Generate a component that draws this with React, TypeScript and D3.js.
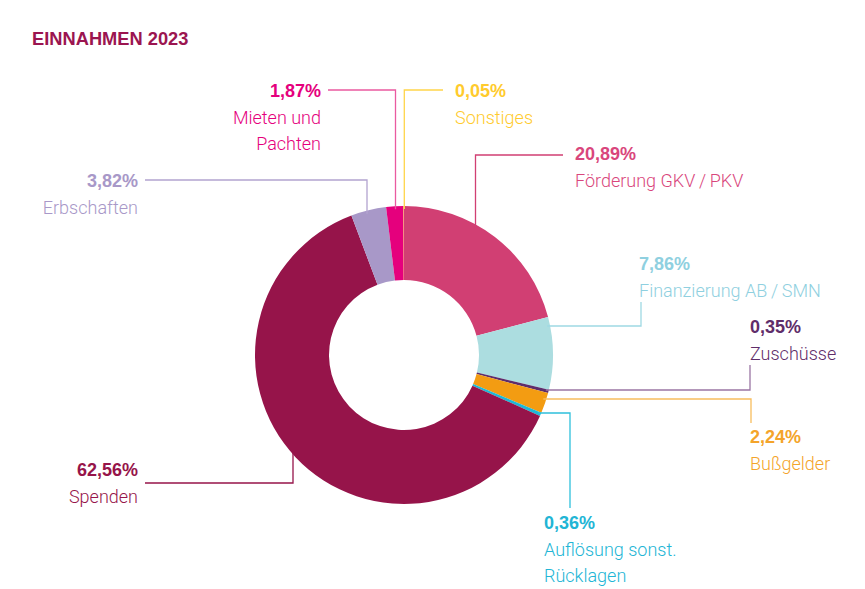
import React from "react";
import * as d3 from "d3";

const categories = [
  "Förderung GKV / PKV",
  "Finanzierung AB / SMN",
  "Zuschüsse",
  "Bußgelder",
  "Auflösung sonst. Rücklagen",
  "Spenden",
  "Erbschaften",
  "Mieten und Pachten",
  "Sonstiges",
];
const values = [20.89, 7.86, 0.35, 2.24, 0.36, 62.56, 3.82, 1.87, 0.05];
const valueLabels = ["20,89%", "7,86%", "0,35%", "2,24%", "0,36%", "62,56%", "3,82%", "1,87%", "0,05%"];
const nameLines = [
  ["Förderung GKV\u2009/\u2009PKV"],
  ["Finanzierung AB\u2009/\u2009SMN"],
  ["Zuschüsse"],
  ["Bußgelder"],
  ["Auflösung sonst.", "Rücklagen"],
  ["Spenden"],
  ["Erbschaften"],
  ["Mieten und", "Pachten"],
  ["Sonstiges"],
];
const sliceColors = ["#d13f73", "#acdde0", "#5e2d6b", "#f39c12", "#1eb8d6", "#96144a", "#a898c8", "#e5007d", "#ffd23f"];
const textColors = ["#d9467c", "#8fd0e0", "#5f2d6a", "#f4a42a", "#22b5d5", "#96144a", "#a898c8", "#e5007d", "#ffcb2d"];
const lineColors = ["#d13f73", "#9fd9e3", "#9a76a4", "#f8bd5e", "#2ec0dc", "#96144a", "#b3a4d0", "#ea5aa0", "#ffd54a"];

// layout of labels and leader lines (not data)
type Layout = {
  kind: "v" | "h";
  at: number;
  to: number;
  end: number;
  tx: number;
  ty: number;
  anchor: "start" | "end";
  side: number;
};
const layouts: Layout[] = [
  { kind: "v", at: 475.5, to: 155, end: 563, tx: 575, ty: 160, anchor: "start", side: -1 },
  { kind: "h", at: 326, to: 641, end: 302, tx: 639, ty: 270, anchor: "start", side: 1 },
  { kind: "h", at: 390, to: 750, end: 365, tx: 750, ty: 333, anchor: "start", side: 1 },
  { kind: "h", at: 399, to: 751, end: 423, tx: 750, ty: 443, anchor: "start", side: 1 },
  { kind: "h", at: 413, to: 570, end: 508, tx: 544, ty: 529, anchor: "start", side: 1 },
  { kind: "v", at: 293, to: 483, end: 145, tx: 138, ty: 476, anchor: "end", side: 1 },
  { kind: "v", at: 367, to: 180, end: 145, tx: 138, ty: 187, anchor: "end", side: -1 },
  { kind: "v", at: 395.5, to: 90, end: 328, tx: 321, ty: 97, anchor: "end", side: -1 },
  { kind: "v", at: 404.3, to: 90, end: 443, tx: 455, ty: 97, anchor: "start", side: -1 },
];

const W = 865;
const H = 589;
const cx = 404;
const cy = 355;
const outerR = 149;
const innerR = 75;
const LIGHT = "Roboto, 'Liberation Sans', Arial, sans-serif";
const BOLD = "'Liberation Sans', Arial, sans-serif";

export default function App() {
  const pie = d3
    .pie<number>()
    .sort(null)
    .value((d) => d)
    .startAngle(0)
    .endAngle(2 * Math.PI);
  const arcs = pie(values);
  const arcGen = d3.arc<d3.PieArcDatum<number>>().innerRadius(innerR).outerRadius(outerR);

  const leaderPath = (l: Layout) => {
    if (l.kind === "v") {
      const dx = l.at - cx;
      const y0 = cy + l.side * Math.sqrt(outerR * outerR - dx * dx) - l.side * 3;
      return `M${l.at},${y0}V${l.to}H${l.end}`;
    } else {
      const dy = l.at - cy;
      const x0 = cx + Math.sqrt(outerR * outerR - dy * dy) - 3;
      return `M${x0},${l.at}H${l.to}V${l.end}`;
    }
  };

  return (
    <svg width={W} height={H} style={{ display: "block", position: "absolute", left: 0, top: 0 }}>
      <rect width={W} height={H} fill="#fff" />
      <text x={32} y={45} fill="#9b1550" fontFamily={BOLD} fontWeight={700} fontSize={18.3}>
        EINNAHMEN 2023
      </text>
      <g transform={`translate(${cx},${cy})`}>
        {arcs.map((a, i) => (
          <path key={i} d={arcGen(a) || ""} fill={sliceColors[i]} />
        ))}
      </g>
      {layouts.map((l, i) => (
        <path key={"l" + i} d={leaderPath(l)} fill="none" stroke={lineColors[i]} strokeWidth={1.3} />
      ))}
      {layouts.map((l, i) => (
        <g key={"t" + i} textAnchor={l.anchor}>
          <text x={l.tx} y={l.ty} fill={textColors[i]} fontFamily={BOLD} fontWeight={700} fontSize={18}>
            {valueLabels[i]}
          </text>
          {nameLines[i].map((s, j) => (
            <text key={j} x={l.tx} y={l.ty + 26.5 * (j + 1)} fill={textColors[i]} fontFamily={LIGHT} fontWeight={300} fontSize={18}>
              {s}
            </text>
          ))}
        </g>
      ))}
    </svg>
  );
}
